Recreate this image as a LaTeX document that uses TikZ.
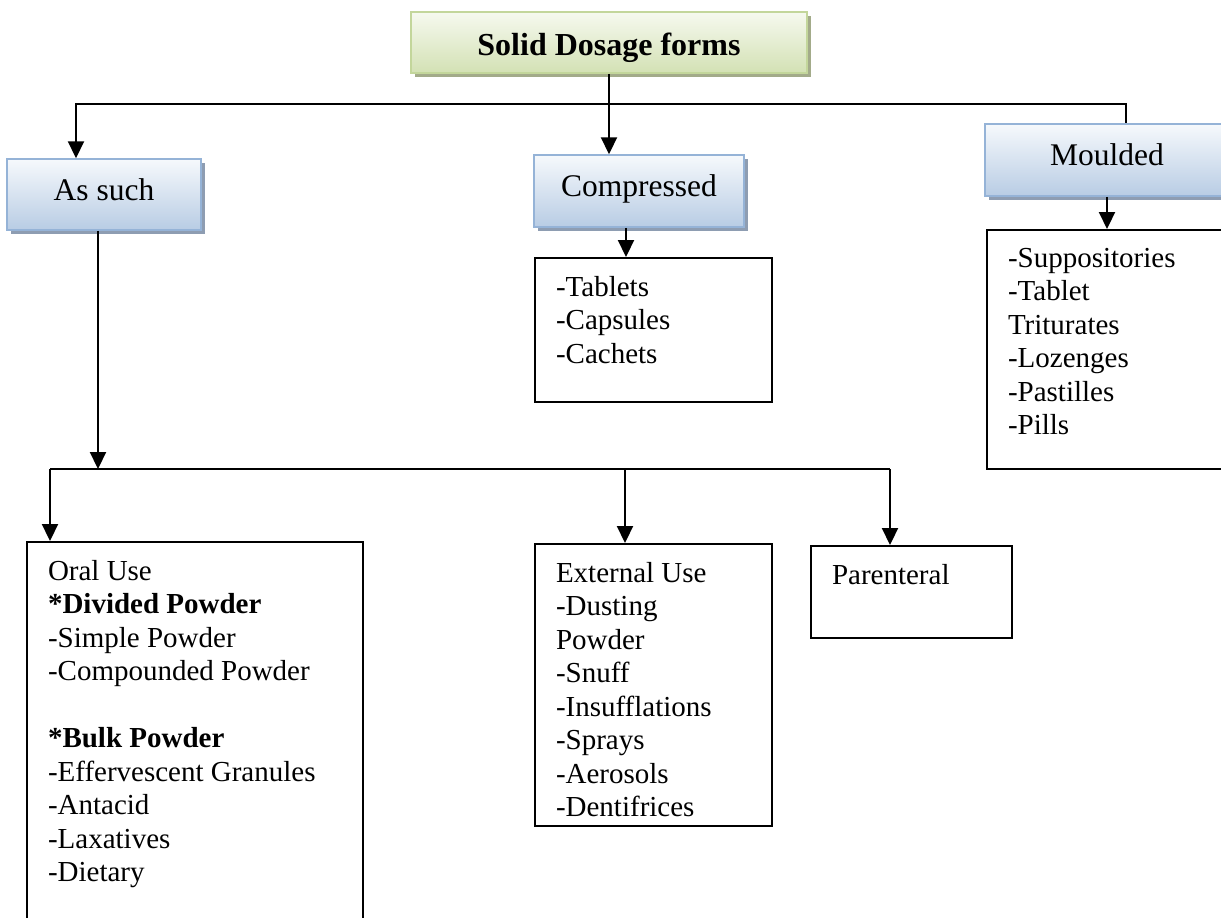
\documentclass[tikz,border=0pt]{standalone}
\usepackage{fontspec}
\setmainfont{Liberation Serif}
\usetikzlibrary{arrows.meta,shadows,calc}

\definecolor{greenTop}{HTML}{F6F9EF}
\definecolor{greenBot}{HTML}{D3E1B4}
\definecolor{greenEdge}{HTML}{C3D69B}
\definecolor{greenShadow}{HTML}{A3AB8A}
\definecolor{blueTop}{HTML}{F6F9FC}
\definecolor{blueBot}{HTML}{B8CCE4}
\definecolor{blueEdge}{HTML}{95B3D7}
\definecolor{blueShadow}{HTML}{8E9DB2}

% text block of a list box: fixed width and height, text set from the top left
\newcommand\boxlines[3]{\parbox[t][#2][t]{#1}{\vspace*{18pt}\raggedright\leftskip=21pt\relax #3}}

\begin{document}
\begin{tikzpicture}[x=1pt,y=-1pt,
  font=\fontsize{29}{33.5}\selectfont,
  conn/.style={line width=2.2pt, line join=miter},
  arr/.style={conn, -{Triangle[width=16pt,length=17pt]}},
  headbox/.style={draw=blueEdge, line width=1.5pt, top color=blueTop, bottom color=blueBot,
    drop shadow={shadow xshift=4pt, shadow yshift=-4pt, fill=blueShadow, opacity=1},
    inner sep=0pt, text height=21.5pt, text depth=10.5pt,
    font=\fontsize{31.5}{36}\selectfont},
  titlebox/.style={headbox, draw=greenEdge, top color=greenTop, bottom color=greenBot,
    drop shadow={shadow xshift=4pt, shadow yshift=-4pt, fill=greenShadow, opacity=1},
    text height=25pt, text depth=0pt,
    font=\fontsize{32}{36}\selectfont\bfseries},
  listbox/.style={draw=black, line width=2pt, inner sep=0pt, anchor=north west, fill=white}]

\useasboundingbox (0,0) rectangle (1221,918);
\fill[white] (0,0) rectangle (1221,918);

% heading boxes
\node[titlebox, minimum width=396pt, minimum height=61pt] (title) at (609,42.5) {Solid Dosage forms};
\node[headbox, minimum width=194pt, minimum height=71pt] (such) at (104,194.5) {As such};
\node[headbox, minimum width=210pt, minimum height=72pt] (cmp) at (639,191) {Compressed};
\node[headbox, minimum width=244pt, minimum height=72pt] (mld) at (1107,160) {Moulded};

% list boxes
\node[listbox] (tab) at (534,257) {\boxlines{237pt}{144pt}{-Tablets\\-Capsules\\-Cachets}};
\node[listbox] (mlist) at (986,229) {\boxlines{260pt}{239pt}{-Suppositories\\-Tablet\\Triturates\\-Lozenges\\-Pastilles\\-Pills}};
\node[listbox] (oral) at (26,541) {\boxlines{336pt}{400pt}{Oral Use\\\textbf{*Divided Powder}\\-Simple Powder\\-Compounded Powder\\[33.5pt]\textbf{*Bulk Powder}\\-Effervescent Granules\\-Antacid\\-Laxatives\\-Dietary}};
\node[listbox] (ext) at (534,543) {\boxlines{237pt}{282pt}{External Use\\-Dusting\\Powder\\-Snuff\\-Insufflations\\-Sprays\\-Aerosols\\-Dentifrices}};
\node[listbox] (par) at (810,545) {\boxlines{201pt}{92pt}{Parenteral}};

% branch points
\coordinate (busL) at (76,104);
\coordinate (busR) at (1126,104);
\coordinate (cmpX) at (626,0);
\coordinate (lowL) at (50,469);
\coordinate (lowM) at (625,469);
\coordinate (lowR) at (890,469);
\coordinate (suchX) at (98,469);

% upper connectors
\draw[arr] (title.south) -- (title.south |- cmp.north);
\draw[arr] (title.south |- busL) -- (busL) -- (busL |- such.north);
\draw[conn] (title.south |- busL) -- (busR) -- (busR |- mld.north);
\draw[arr] (cmp.south -| cmpX) -- (tab.north -| cmpX);
\draw[arr] (mld.south) -- (mld.south |- mlist.north);

% lower connectors
\draw[arr] (such.south -| suchX) -- (suchX);
\draw[conn] (lowL) -- (lowR);
\draw[arr] (lowL) -- (lowL |- oral.north);
\draw[arr] (lowM) -- (lowM |- ext.north);
\draw[arr] (lowR) -- (lowR |- par.north);
\end{tikzpicture}
\end{document}
